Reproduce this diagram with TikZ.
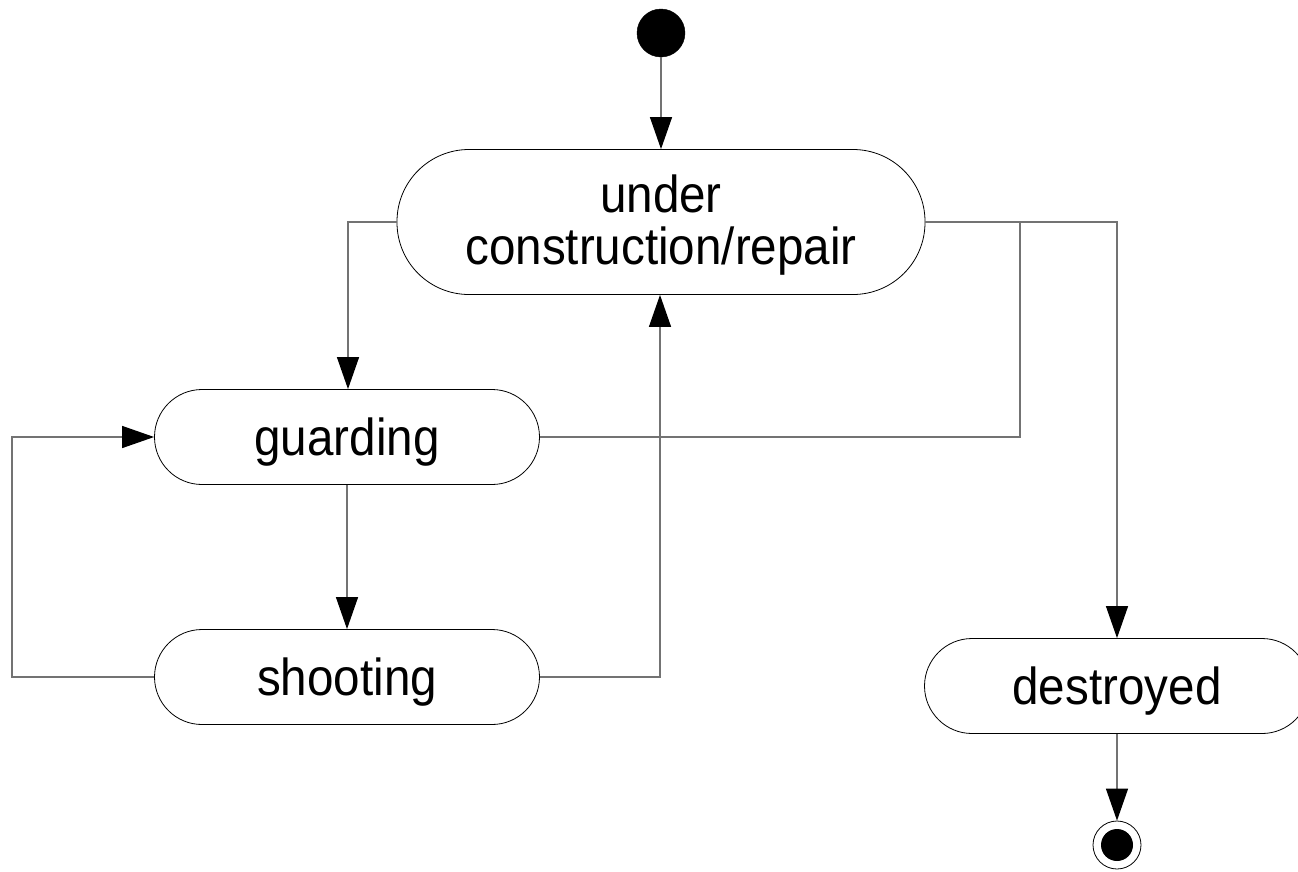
\documentclass[tikz,border=0pt]{standalone}
\usepackage{fontspec}
\setmainfont{Liberation Sans}[FakeStretch=0.915]
\usetikzlibrary{arrows.meta}
\begin{document}
\begin{tikzpicture}[x=1pt,y=-1pt,
  state/.style={draw=black,line width=0.8pt,fill=white,rectangle,
    minimum width=385pt,minimum height=95pt,rounded corners=47.5pt,
    inner sep=0pt,align=center,font=\fontsize{52}{52}\selectfont,
    text height=37pt,text depth=0pt},
  bigstate/.style={state,minimum width=528pt,minimum height=145pt,rounded corners=72pt,
    text height=84pt},
  initial/.style={circle,fill=black,draw=black,minimum size=48pt,inner sep=0pt},
  final/.style={circle,draw=black,line width=0.8pt,fill=white,minimum size=48pt,inner sep=0pt,
    path picture={\fill[black] (path picture bounding box.center) circle (16pt);}},
  conn/.style={draw=black!55,line width=1.3pt},
  arr/.style={conn,-{Triangle[length=32pt,width=22pt,fill=black,color=black]}}]
\useasboundingbox (0,0) rectangle (1298,871);

% states
\node[initial] (init) at (661,33) {};
\node[bigstate] (uc) at (661,222) {under\\construction/repair};
\node[state] (guard) at (347,437) {guarding};
\node[state] (shoot) at (347,677) {shooting};
\node[state] (dest) at (1117,686) {destroyed};
\node[final] (fin) at (1117,845) {};

% bend points of the routed transitions
\coordinate (ucL) at (348,222);
\coordinate (loopBL) at (12,677);
\coordinate (loopTL) at (12,437);
\coordinate (upB) at (660,677);
\coordinate (gR) at (1020,437);
\coordinate (gRT) at (1020,222);
\coordinate (dT) at (1117,222);

% transitions
\draw[arr] (init) -- (uc);
\draw[arr] (uc.west) -- (ucL) -- (guard.north -| ucL);
\draw[arr] (guard) -- (shoot);
\draw[arr] (shoot.west) -- (loopBL) -- (loopTL) -- (guard.west);
\draw[arr] (shoot.east) -- (upB) -- (uc.south -| upB);
\draw[conn] (guard.east) -- (gR) -- (gRT) -- (uc.east);
\draw[arr] (uc.east) -- (dT) -- (dest.north);
\draw[arr] (dest) -- (fin);
\end{tikzpicture}
\end{document}
